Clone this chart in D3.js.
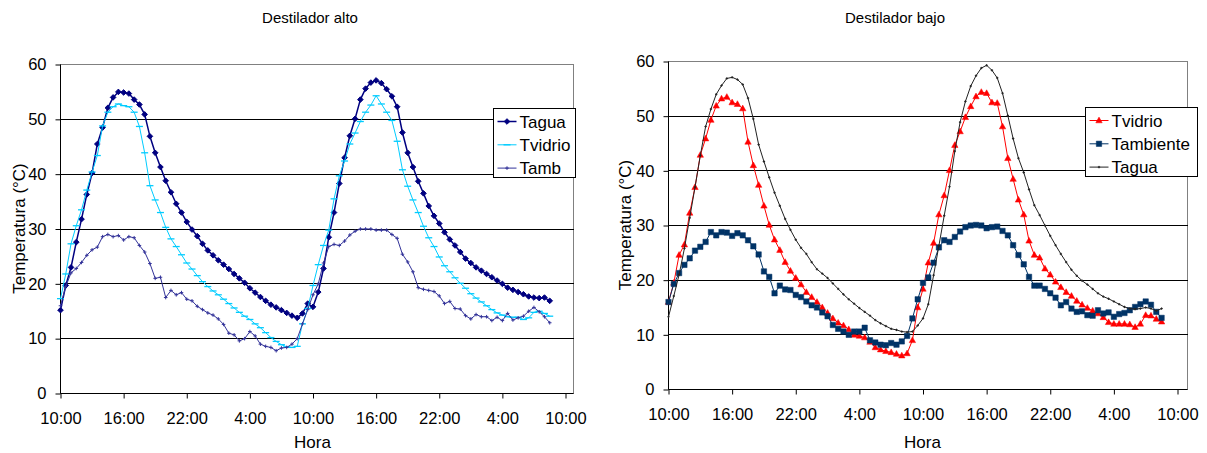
<!DOCTYPE html>
<html>
<head>
<meta charset="utf-8">
<script src="https://cdn.jsdelivr.net/npm/d3@7"></script>
<style>
body { margin: 0; background: #fff; }
svg { font-family: "Liberation Sans", Arial, sans-serif; }
</style>
</head>
<body>
<svg id="chart" width="1207" height="453"></svg>
<script>
// Hora: one reading every half hour, starting 10:00 (hour 0)
var paso = 0.5
var horaLabels = ['10:00', '16:00', '22:00', '4:00', '10:00', '16:00', '22:00', '4:00', '10:00']
var horaTicks = [0, 6, 12, 18, 24, 30, 36, 42, 48]
var tempTicks = [0, 10, 20, 30, 40, 50, 60]

// Destilador alto
var taguaAlto = [
  15.2, 19.7, 23.0, 27.6, 31.8, 36.3, 40.2, 45.5, 48.5, 52.1,
  54.0, 55.0, 54.9, 54.7, 53.6, 52.7, 50.9, 46.9, 43.9, 41.3,
  38.8, 36.7, 34.6, 33.0, 31.3, 29.9, 28.7, 27.3, 26.1, 25.2,
  24.3, 23.5, 22.7, 21.8, 21.0, 20.2, 19.2, 18.4, 17.6, 16.9,
  16.2, 15.7, 15.2, 14.7, 14.2, 13.8, 14.6, 16.4, 15.8, 18.5,
  22.8, 28.5, 33.0, 38.3, 43.0, 47.0, 50.1, 53.6, 55.6, 56.7,
  57.1, 56.6, 55.5, 54.2, 52.3, 47.6, 43.9, 41.3, 38.7, 36.5,
  34.2, 32.4, 31.0, 29.4, 28.1, 27.0, 25.8, 24.6, 23.8, 23.0,
  22.4, 21.8, 21.2, 20.6, 20.0, 19.3, 18.9, 18.5, 18.1, 17.7,
  17.5, 17.4, 17.5, 16.9]
var tvidrioAlto = [
  17.3, 21.8, 27.3, 30.6, 33.5, 37.1, 40.4, 43.4, 48.8, 51.3,
  52.3, 52.8, 52.5, 52.3, 51.3, 48.7, 43.9, 37.9, 35.3, 33.0,
  30.3, 28.2, 26.8, 25.3, 23.8, 22.7, 21.5, 20.4, 19.5, 18.7,
  18.0, 17.2, 16.4, 15.6, 14.8, 14.1, 13.5, 12.7, 12.0, 11.1,
  10.2, 9.5, 8.9, 8.5, 8.4, 8.6, 12.7, 15.5, 19.7, 23.5,
  27.0, 29.8, 35.5, 39.7, 42.4, 45.5, 47.5, 49.6, 51.3, 52.6,
  54.3, 52.8, 51.3, 49.8, 46.0, 40.8, 37.8, 35.3, 33.0, 30.5,
  28.4, 26.8, 24.9, 23.3, 22.2, 21.1, 20.1, 19.2, 18.2, 17.4,
  16.7, 16.0, 15.3, 14.7, 14.3, 14.0, 13.9, 13.9, 13.5, 13.8,
  14.8, 15.0, 14.6, 14.1]
var tambAlto = [
  16.0, 19.5, 22.0, 22.8, 23.9, 25.2, 26.2, 26.7, 28.6, 29.0,
  28.6, 28.8, 28.0, 28.6, 28.4, 27.0, 25.8, 23.7, 21.0, 21.2,
  17.5, 18.8, 18.0, 18.4, 17.2, 16.9, 15.9, 15.3, 14.7, 14.3,
  13.6, 12.6, 11.0, 10.7, 9.6, 10.0, 11.3, 10.5, 9.0, 8.6,
  8.4, 7.8, 8.3, 8.4, 9.0, 10.0, 12.7, 15.3, 18.0, 20.0,
  23.8, 26.8, 27.2, 27.0, 27.8, 28.9, 29.6, 30.0, 30.0, 30.0,
  29.8, 29.8, 29.8, 29.0, 28.3, 25.4, 24.0, 22.2, 19.3, 19.0,
  18.8, 18.6, 17.8, 16.4, 16.8, 15.5, 15.4, 14.2, 13.6, 14.4,
  14.0, 14.0, 13.3, 13.9, 13.3, 14.6, 13.4, 13.8, 14.1, 15.0,
  15.7, 14.9, 14.0, 12.9]

// Destilador bajo
var tvidrioBajo = [
  16.0, 19.5, 24.6, 26.5, 32.3, 37.0, 42.9, 45.9, 49.3, 51.9,
  53.2, 53.5, 52.5, 52.2, 51.4, 45.3, 41.0, 37.4, 33.6, 30.1,
  27.4, 25.5, 23.3, 21.7, 20.4, 19.2, 17.8, 16.9, 16.0, 15.0,
  14.0, 13.0, 12.2, 11.7, 11.0, 10.0, 9.8, 9.5, 8.7, 7.7,
  7.3, 7.0, 6.8, 6.5, 6.2, 6.6, 9.0, 15.0, 18.4, 23.2,
  26.8, 32.0, 35.5, 40.1, 44.7, 47.2, 49.8, 51.8, 53.6, 54.4,
  54.2, 52.5, 52.4, 48.1, 42.3, 38.5, 34.7, 32.0, 27.2, 24.6,
  24.1, 22.1, 21.0, 19.7, 18.7, 17.8, 17.1, 16.2, 15.5, 14.9,
  14.4, 13.9, 13.2, 12.3, 12.0, 12.0, 12.0, 11.9, 11.4, 12.0,
  13.6, 13.5, 12.9, 12.4]
var tambienteBajo = [
  16.0, 19.3, 21.3, 22.8, 24.0, 25.4, 26.1, 27.0, 28.8, 28.2,
  28.8, 28.7, 28.1, 28.6, 28.2, 27.3, 26.2, 24.7, 21.6, 20.6,
  17.6, 19.0, 18.3, 18.2, 17.3, 16.9, 16.1, 15.4, 15.0, 14.1,
  13.4, 11.8, 11.1, 10.6, 10.0, 10.6, 10.6, 11.3, 9.0, 8.6,
  8.2, 8.1, 8.5, 8.2, 8.8, 9.8, 13.0, 16.5, 19.5, 20.5,
  23.2, 26.0, 27.3, 27.0, 27.9, 28.9, 29.7, 30.0, 30.1, 30.0,
  29.5, 29.7, 29.8, 29.0, 28.2, 26.4, 24.6, 22.9, 20.6, 19.0,
  19.0, 18.4, 17.6, 16.8, 15.4, 16.0, 14.8, 14.2, 14.3, 13.6,
  13.5, 14.5, 13.9, 14.1, 13.3, 13.8, 14.0, 14.5, 15.1, 15.6,
  16.1, 15.5, 14.2, 13.1]
var taguaBajo = [
  13.3, 17.1, 21.0, 25.8, 31.4, 37.0, 42.8, 48.1, 51.3, 54.0,
  55.6, 56.9, 57.1, 56.7, 55.8, 53.3, 49.5, 44.8, 41.7, 38.8,
  36.0, 33.6, 31.2, 29.2, 27.4, 25.9, 24.8, 23.3, 22.0, 21.2,
  20.4, 19.4, 18.4, 17.4, 16.5, 15.7, 14.9, 14.2, 13.5, 12.7,
  12.1, 11.6, 11.1, 10.9, 10.6, 10.5, 10.6, 11.7, 13.0, 15.6,
  20.9, 26.3, 31.8, 37.1, 43.6, 48.9, 52.7, 55.5, 57.4, 58.8,
  59.3, 58.4, 57.0, 54.2, 50.1, 45.9, 42.3, 39.7, 36.6, 33.7,
  31.9, 30.0, 28.1, 26.4, 24.8, 23.3, 21.9, 20.8, 19.9, 19.2,
  18.4, 17.6, 17.0, 16.6, 16.1, 15.6, 15.1, 14.8, 14.7, 14.8,
  15.0, 14.8, 14.4, 14.8]

// marker shapes
var marks = {
  diamond: 'M0,-2.8L2.8,0L0,2.8L-2.8,0Z',
  dash: 'M-3.5,0H3.5',
  cross: 'M-1.8,0H1.8M0,-1.8V1.8',
  tiny: 'M-1.2,0H1.2M0,-1.2V1.2',
  triangle: 'M0,-3.4L3.2,2.3L-3.2,2.3Z',
  square: 'M-2.7,-2.7H2.7V2.7H-2.7Z'
}

var svg = d3.select('#chart')

function panel(cfg) {
  var g = svg.append('g')
    .attr('transform', 'translate(' + (cfg.left + 0.5) + ',' + (cfg.top + 0.5) + ')')

  var x = d3.scaleLinear().domain([0, 48]).range([0, cfg.w48])
  var y = d3.scaleLinear().domain([0, 60]).range([cfg.h, 0])

  // plot area border
  g.append('rect')
    .attr('width', cfg.w)
    .attr('height', cfg.h)
    .attr('fill', '#fff')
    .attr('stroke', '#808080')

  // gridlines
  g.selectAll('.grid')
    .data(tempTicks.filter(t => t > 0 && t < 60))
    .enter()
    .append('line')
    .attr('class', 'grid')
    .attr('x1', 0)
    .attr('x2', cfg.w)
    .attr('y1', d => y(d))
    .attr('y2', d => y(d))
    .attr('stroke', '#000')
    .attr('shape-rendering', 'crispEdges')

  // axes
  var yAxis = g.append('g')
    .call(d3.axisLeft(y).tickValues(tempTicks).tickSize(5).tickPadding(cfg.ypad).tickSizeOuter(0))
  yAxis.select('.domain').remove()
  yAxis.selectAll('text').style('font-size', '16.5px').attr('fill', '#000')

  var xAxis = g.append('g')
    .attr('transform', 'translate(0,' + cfg.h + ')')
    .call(d3.axisBottom(x).tickValues(horaTicks).tickFormat((d, i) => horaLabels[i])
      .tickSize(5).tickPadding(14).tickSizeOuter(0))
  xAxis.select('.domain').remove()
  xAxis.selectAll('text').style('font-size', '16.5px').attr('fill', '#000')

  g.append('line').attr('x1', 0).attr('x2', 0).attr('y1', 0).attr('y2', cfg.h).attr('stroke', '#000')
  g.append('line').attr('x1', 0).attr('x2', cfg.w).attr('y1', cfg.h).attr('y2', cfg.h).attr('stroke', '#000')

  // series
  var line = d3.line().x(d => x(d[0])).y(d => y(d[1]))
  cfg.series.forEach(s => {
    var pts = s.values.map((v, i) => [i * paso, v])
    g.append('path')
      .datum(pts)
      .attr('d', line)
      .attr('fill', 'none')
      .attr('stroke', s.color)
      .attr('stroke-width', s.width)
      .attr('stroke-linejoin', 'round')

    g.append('g').selectAll('path')
      .data(pts)
      .enter()
      .append('path')
      .attr('d', marks[s.mark])
      .attr('transform', d => 'translate(' + x(d[0]) + ',' + y(d[1]) + ')')
      .attr('fill', s.fill ? s.color : 'none')
      .attr('stroke', s.color)
      .attr('stroke-width', s.markWidth)
  })

  // titles
  svg.append('text')
    .attr('x', cfg.titleX)
    .attr('y', 23)
    .attr('text-anchor', 'middle')
    .style('font-size', '15px')
    .text(cfg.title)

  svg.append('text')
    .attr('x', cfg.left + cfg.w48 / 2)
    .attr('y', 448)
    .attr('text-anchor', 'middle')
    .style('font-size', '17px')
    .text('Hora')

  svg.append('text')
    .attr('transform', 'translate(' + cfg.ylabX + ',' + (cfg.top + cfg.h / 2) + ') rotate(-90)')
    .attr('text-anchor', 'middle')
    .style('font-size', '17px')
    .text('Temperatura (°C)')

  // legend
  var lg = svg.append('g')
    .attr('transform', 'translate(' + (cfg.legX + 0.5) + ',' + (cfg.legY + 0.5) + ')')
  lg.append('rect')
    .attr('width', cfg.legW)
    .attr('height', 69)
    .attr('fill', '#fff')
    .attr('stroke', '#000')
  cfg.series.forEach((s, i) => {
    var cy = 13 + i * 23.3
    lg.append('line')
      .attr('x1', 4).attr('x2', 23)
      .attr('y1', cy).attr('y2', cy)
      .attr('stroke', s.color)
      .attr('stroke-width', s.width)
    lg.append('path')
      .attr('d', marks[s.mark])
      .attr('transform', 'translate(13.5,' + cy + ')')
      .attr('fill', s.fill ? s.color : 'none')
      .attr('stroke', s.color)
      .attr('stroke-width', s.markWidth)
    lg.append('text')
      .attr('x', 26)
      .attr('y', cy + 6)
      .style('font-size', '17px')
      .text(s.name)
  })
}

panel({
  title: 'Destilador alto', titleX: 310,
  left: 60, top: 64, w: 513, h: 329, w48: 505, ypad: 9, ylabX: 25,
  legX: 493, legY: 108, legW: 82,
  series: [
    {name: 'Tagua', values: taguaAlto, color: '#000080', width: 1.5, mark: 'diamond', fill: true, markWidth: 1},
    {name: 'Tvidrio', values: tvidrioAlto, color: '#00CCFF', width: 1, mark: 'dash', fill: false, markWidth: 1.3},
    {name: 'Tamb', values: tambAlto, color: '#333399', width: 1, mark: 'cross', fill: false, markWidth: 1}
  ]
})

panel({
  title: 'Destilador bajo', titleX: 895,
  left: 668, top: 61, w: 519, h: 328, w48: 509, ypad: 9, ylabX: 631,
  legX: 1085, legY: 107, legW: 112,
  series: [
    {name: 'Tvidrio', values: tvidrioBajo, color: '#FF0000', width: 1, mark: 'triangle', fill: true, markWidth: 0.5},
    {name: 'Tambiente', values: tambienteBajo, color: '#003366', width: 1, mark: 'square', fill: true, markWidth: 0.5},
    {name: 'Tagua', values: taguaBajo, color: '#222222', width: 1, mark: 'tiny', fill: false, markWidth: 1}
  ]
})
</script>
</body>
</html>
